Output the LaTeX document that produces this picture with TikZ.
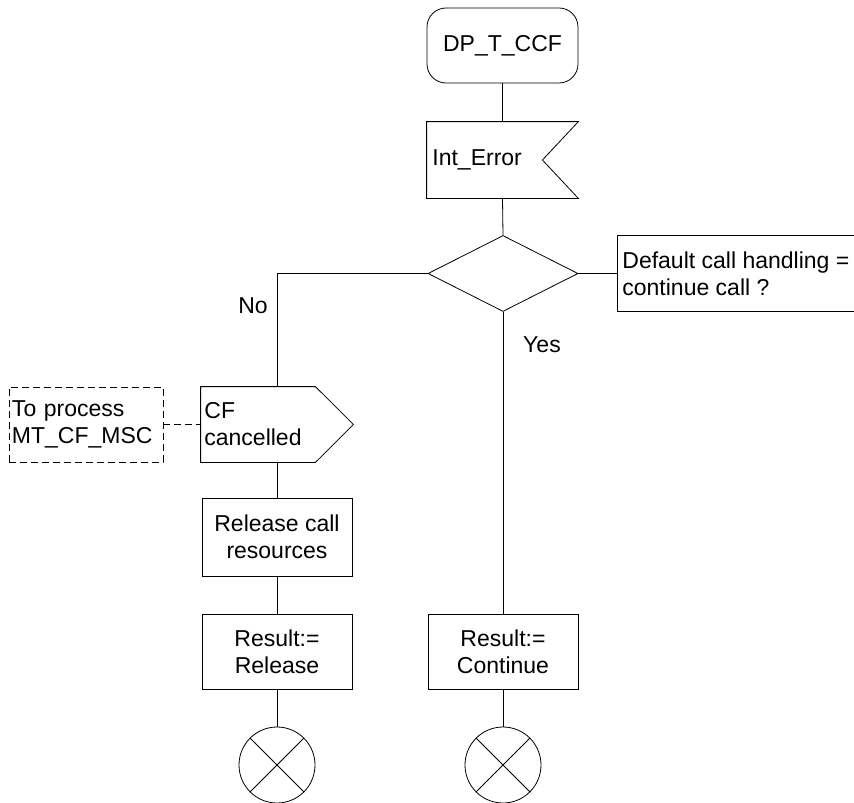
\documentclass[tikz,border=0pt]{standalone}
\usepackage{fontspec}
\setmainfont{Liberation Sans}
\usetikzlibrary{shapes.geometric,calc}
\begin{document}
\begin{tikzpicture}[x=1pt,y=-1pt,line width=0.8pt,
  every node/.style={font=\fontsize{23}{27}\selectfont},
  box/.style={draw,rectangle,minimum width=150,minimum height=75,inner sep=3,align=center},
  bare/.style={rectangle,inner sep=0,minimum width=#1,minimum height=75},
  stopsym/.style={draw,circle,minimum size=76,inner sep=0},
  lbl/.style={inner sep=0}]
\useasboundingbox (0,0) rectangle (854,803);
% start
\node[box,rounded corners=19,minimum width=151] (start) at (502.5,45.5) {DP\_T\_CCF};
% input signal
\node[bare=151,minimum height=76] (interr) at (502.5,160) {};
\node[lbl,anchor=west] (interrtxt) at (432,160) {Int\_Error};
\draw (interr.north west) -- (interr.north east) -- ($(interr.east)+(-36,0)$) -- (interr.south east) -- (interr.south west) -- cycle;
% decision
\node[draw,diamond,minimum width=150,minimum height=76,inner sep=0] (dec) at (503,273.5) {};
\node[draw,rectangle,anchor=west,minimum height=76,inner xsep=5,align=left] (q) at (617,273.5) {Default call handling =\\continue call ?};
% output signal
\node[bare=152] (cf) at (277,424.5) {};
\node[lbl,anchor=west,align=left] (cftxt) at (204,424.5) {CF\\cancelled};
\draw (cf.north west) -- ($(cf.north east)+(-38,0)$) -- (cf.east) -- ($(cf.south east)+(-38,0)$) -- (cf.south west) -- cycle;
% external process
\node[draw,dashed,dash pattern=on 7pt off 4pt,rectangle,minimum width=154,minimum height=75,inner xsep=3,align=left,text width=148] (ext) at (86,424.5) {To process\\MT\_CF\_MSC};
% tasks
\node[box,minimum height=78] (rel) at (277,537) {Release call\\resources};
\node[box] (resrel) at (277,651.5) {Result:=\\Release};
\node[box] (rescont) at (503,651.5) {Result:=\\Continue};
% stops
\node[stopsym] (stop1) at (277,765) {};
\node[stopsym] (stop2) at (503,765) {};
\draw (stop1.north west) -- (stop1.south east) (stop1.north east) -- (stop1.south west);
\draw (stop2.north west) -- (stop2.south east) (stop2.north east) -- (stop2.south west);
% labels
\node[lbl] (no) at (253,306) {No};
\node[lbl] (yes) at (542,345) {Yes};
% connectors
\draw (start.south) -- (interr.north);
\draw (interr.south) -- (dec.north);
\draw (dec.east) -- (q.west);
\draw (dec.west) -| (cf.north);
\draw (dec.south) -- (rescont.north);
\draw (cf.south) -- (rel.north);
\draw (rel.south) -- (resrel.north);
\draw (resrel.south) -- (stop1.north);
\draw (rescont.south) -- (stop2.north);
\draw[dashed,dash pattern=on 7pt off 4pt] (ext.east) -- (cf.west);
\end{tikzpicture}
\end{document}
